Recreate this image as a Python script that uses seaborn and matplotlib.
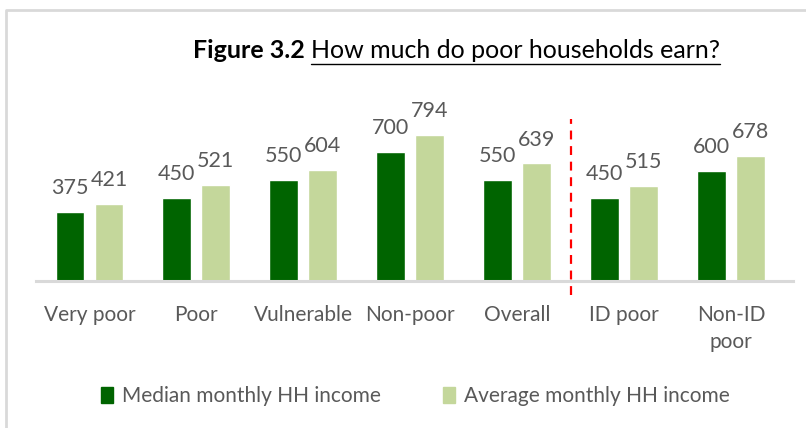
import pandas as pd
import matplotlib.pyplot as plt
import seaborn as sns
from matplotlib.lines import Line2D
from matplotlib.patches import Rectangle

# data
groups = ["Very poor", "Poor", "Vulnerable", "Non-poor", "Overall", "ID poor", "Non-ID\npoor"]
median_income = [375, 450, 550, 700, 550, 450, 600]
average_income = [421, 521, 604, 794, 639, 515, 678]
series = ["Median monthly HH income", "Average monthly HH income"]

df = pd.DataFrame({"group": groups * 2,
                   "value": median_income + average_income,
                   "series": [series[0]] * 7 + [series[1]] * 7})

sns.set_style("white")
plt.rcParams['font.family'] = ['Lato', 'DejaVu Sans']
grey = "#595959"
fs = 15

fig = plt.figure(figsize=(8.06, 4.28), dpi=100)
ax = fig.add_axes([36/806, 147/428, 757/806, 184/428])

sns.barplot(data=df, x="group", y="value", hue="series", order=groups,
            palette=["#006400", "#c4d79b"], saturation=1, width=0.73, gap=0.26,
            ax=ax, legend=False)

for cont in ax.containers:
    ax.bar_label(cont, padding=10, fontsize=fs + 0.5, color=grey)

ax.set_ylim(0, 1000)
ax.set_xlim(-0.5, 6.58)
ax.set_xlabel("")
ax.set_ylabel("")
ax.set_yticks([])
ax.tick_params(axis="x", length=0, pad=17, labelsize=fs, labelcolor=grey)
for lab in ax.get_xticklabels():
    lab.set_linespacing(1.45)
for s in ["top", "right", "left"]:
    ax.spines[s].set_visible(False)
ax.spines["bottom"].set_color("#d9d9d9")
ax.spines["bottom"].set_linewidth(2.2)

# divider between the poverty groups and the ID groups
ax.vlines(4.5, -76, 880, colors="red", linestyles=(0, (4, 3)), linewidth=1.6, clip_on=False)

# legend
handles = [Rectangle((0, 0), 1, 1, color=c) for c in ["#006400", "#c4d79b"]]
fig.legend(handles, series, loc="center", bbox_to_anchor=(0.515, 1 - 396/428), ncol=2,
           frameon=False, fontsize=fs, labelcolor=grey, handlelength=0.6,
           handleheight=0.8, handletextpad=0.4, columnspacing=3.0)

# title: bold prefix + underlined rest
t2 = fig.text(720/806, 1 - 50/428, "How much do poor households earn?", ha="right",
              va="center", fontsize=18, color="black")
fig.canvas.draw()
bb = t2.get_window_extent().transformed(fig.transFigure.inverted())
fig.text(bb.x0 - 6/806, 1 - 50/428, "Figure 3.2", ha="right", va="center",
         fontsize=18, fontweight="bold", color="black")
fig.add_artist(Line2D([bb.x0, bb.x1], [1 - 64/428] * 2, color="black", linewidth=1,
                      transform=fig.transFigure))

# frame on the left and top like the source screenshot
fig.add_artist(Line2D([6/806, 6/806, 1], [0, 1 - 10/428, 1 - 10/428], color="#d9d9d9",
                      linewidth=2, transform=fig.transFigure))

plt.savefig("out.png", dpi=100)
